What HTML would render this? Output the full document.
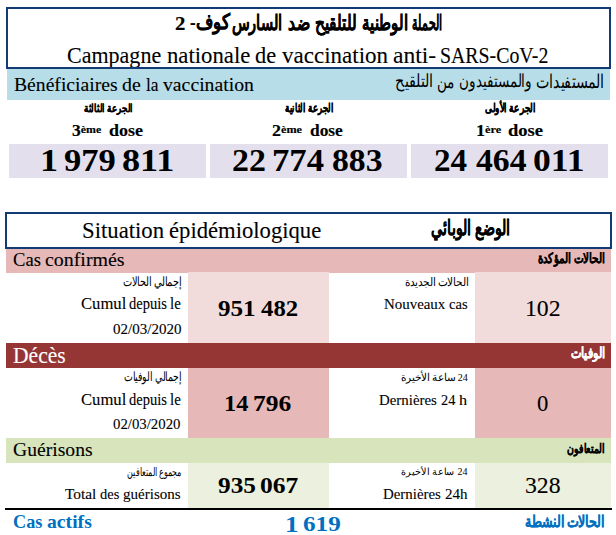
<!DOCTYPE html>
<html><head><meta charset="utf-8"><title>Campagne nationale de vaccination</title><style>
html,body{margin:0;padding:0;background:#fff;}
body{width:616px;height:535px;position:relative;overflow:hidden;font-family:"Liberation Serif",serif;}
.b{position:absolute;}
.f{position:absolute;box-sizing:border-box;border:2px solid #123a74;z-index:5;}
.t{position:absolute;white-space:nowrap;line-height:1;transform-origin:0 0;}
.t sup{font-size:0.68em;vertical-align:0;position:relative;top:-0.28em;}
.r{direction:rtl;unicode-bidi:isolate;}
</style></head><body>
<div class="b" style="left:7px;top:69px;width:603px;height:31px;background:#B7DEE8"></div>
<div class="b" style="left:9px;top:144px;width:197px;height:34px;background:#E4DFEC"></div>
<div class="b" style="left:210px;top:144px;width:197px;height:34px;background:#E4DFEC"></div>
<div class="b" style="left:411px;top:144px;width:197px;height:34px;background:#E4DFEC"></div>
<div class="b" style="left:6px;top:249px;width:605px;height:24px;background:#E6B8B7"></div>
<div class="b" style="left:188px;top:272px;width:141px;height:71px;background:#F2DCDB"></div>
<div class="b" style="left:475px;top:272px;width:136px;height:71px;background:#F2DCDB"></div>
<div class="b" style="left:6px;top:343px;width:605px;height:25px;background:#963634"></div>
<div class="b" style="left:188px;top:368px;width:141px;height:70px;background:#E6B8B7"></div>
<div class="b" style="left:475px;top:368px;width:136px;height:70px;background:#E6B8B7"></div>
<div class="b" style="left:6px;top:438px;width:605px;height:25px;background:#D8E4BC"></div>
<div class="b" style="left:188px;top:463px;width:141px;height:45px;background:#EBF1DE"></div>
<div class="b" style="left:475px;top:463px;width:136px;height:45px;background:#EBF1DE"></div>
<div class="b" style="left:5px;top:508px;width:607px;height:2px;background:#000000"></div>
<div class="f" style="left:6px;top:7px;width:605px;height:62px;"></div>
<div class="f" style="left:5px;top:212px;width:607px;height:37px;"></div>
<div id="title_ar_0" class="t r" style="left:412.35px;top:11.64px;font-size:20px;color:#000;transform:scale(0.5519,1.0588);font-weight:bold;-webkit-text-stroke-width:0.20px;">الحملة</div>
<div id="title_ar_1" class="t r" style="left:361.86px;top:11.73px;font-size:20px;color:#000;transform:scale(0.7564,1.0633);font-weight:bold;-webkit-text-stroke-width:0.20px;">الوطنية</div>
<div id="title_ar_2" class="t r" style="left:315.33px;top:11.88px;font-size:20px;color:#000;transform:scale(0.7547,1.0324);font-weight:bold;-webkit-text-stroke-width:0.20px;">للتلقيح</div>
<div id="title_ar_3" class="t r" style="left:287.53px;top:11.76px;font-size:20px;color:#000;transform:scale(0.7907,1.0620);font-weight:bold;-webkit-text-stroke-width:0.20px;">ضد</div>
<div id="title_ar_4" class="t r" style="left:232.22px;top:12.15px;font-size:20px;color:#000;transform:scale(0.7184,1.0372);font-weight:bold;-webkit-text-stroke-width:0.20px;">السارس</div>
<div id="title_ar_5" class="t r" style="left:190.48px;top:11.41px;font-size:20px;color:#000;transform:scale(0.8414,1.0574);font-weight:bold;-webkit-text-stroke-width:0.20px;">كوف-</div>
<div id="title_ar_6" class="t r" style="left:174.81px;top:14.81px;font-size:20px;color:#000;transform:scale(1.0391,0.8920);font-weight:bold;-webkit-text-stroke-width:0.20px;">2</div>
<div id="title_fr_0" class="t" style="left:66.74px;top:44.38px;font-size:22px;color:#000;transform:scale(1.0009,1.0416);-webkit-text-stroke-width:0.10px;">Campagne</div>
<div id="title_fr_1" class="t" style="left:167.47px;top:44.57px;font-size:22px;color:#000;transform:scale(1.0340,1.0125);-webkit-text-stroke-width:0.10px;">nationale</div>
<div id="title_fr_2" class="t" style="left:255.02px;top:44.27px;font-size:22px;color:#000;transform:scale(1.0172,1.0401);-webkit-text-stroke-width:0.10px;">de</div>
<div id="title_fr_3" class="t" style="left:282.04px;top:44.03px;font-size:22px;color:#000;transform:scale(1.0463,1.0282);-webkit-text-stroke-width:0.10px;">vaccination</div>
<div id="title_fr_4" class="t" style="left:392.98px;top:43.76px;font-size:22px;color:#000;transform:scale(1.0711,1.0380);-webkit-text-stroke-width:0.10px;">anti-</div>
<div id="title_fr_5" class="t" style="left:440.24px;top:43.97px;font-size:22px;color:#000;transform:scale(0.9013,1.0415);-webkit-text-stroke-width:0.10px;">SARS-CoV-2</div>
<div id="benef_fr_0" class="t" style="left:13.93px;top:74.93px;font-size:18px;color:#000;transform:scale(1.0916,1.0423);-webkit-text-stroke-width:0.10px;">Bénéficiaires</div>
<div id="benef_fr_1" class="t" style="left:121.80px;top:75.52px;font-size:18px;color:#000;transform:scale(1.1033,1.0112);-webkit-text-stroke-width:0.10px;">de</div>
<div id="benef_fr_2" class="t" style="left:145.70px;top:74.50px;font-size:18px;color:#000;transform:scale(0.9686,1.0895);-webkit-text-stroke-width:0.10px;">la</div>
<div id="benef_fr_3" class="t" style="left:162.60px;top:74.72px;font-size:18px;color:#000;transform:scale(1.0960,1.0411);-webkit-text-stroke-width:0.10px;">vaccination</div>
<div id="benef_ar_0" class="t r" style="left:535.74px;top:72.13px;font-size:18px;color:#000;transform:scale(0.7912,1.0554);">المستفيدات</div>
<div id="benef_ar_1" class="t r" style="left:459.40px;top:72.05px;font-size:18px;color:#000;transform:scale(0.7704,1.0258);">والمستفيدون</div>
<div id="benef_ar_2" class="t r" style="left:437.03px;top:72.67px;font-size:18px;color:#000;transform:scale(0.7393,1.0320);">من</div>
<div id="benef_ar_3" class="t r" style="left:395.11px;top:72.46px;font-size:18px;color:#000;transform:scale(0.8132,1.0194);">التلقيح</div>
<div id="d3_ar" class="t r" style="left:83.53px;top:102.16px;font-size:13px;color:#000;transform:scale(0.6793,0.8640);font-weight:bold;-webkit-text-stroke-width:0.30px;">الجرعة الثالثة</div>
<div id="d2_ar" class="t r" style="left:285.07px;top:102.09px;font-size:13px;color:#000;transform:scale(0.6731,0.9449);font-weight:bold;-webkit-text-stroke-width:0.30px;">الجرعة الثانية</div>
<div id="d1_ar" class="t r" style="left:485.01px;top:102.02px;font-size:13px;color:#000;transform:scale(0.6947,0.9381);font-weight:bold;-webkit-text-stroke-width:0.30px;">الجرعة الأولى</div>
<div id="d3_fr_0" class="t" style="left:71.58px;top:122.88px;font-size:16px;color:#000;transform:scale(1.0959,0.9977);font-weight:bold;-webkit-text-stroke-width:0.15px;">3<sup>ème</sup></div>
<div id="d3_fr_1" class="t" style="left:108.93px;top:121.83px;font-size:16px;color:#000;transform:scale(1.1229,1.0448);font-weight:bold;-webkit-text-stroke-width:0.15px;">dose</div>
<div id="d2_fr_0" class="t" style="left:271.82px;top:123.30px;font-size:16px;color:#000;transform:scale(1.1214,1.0036);font-weight:bold;-webkit-text-stroke-width:0.15px;">2<sup>ème</sup></div>
<div id="d2_fr_1" class="t" style="left:310.29px;top:123.23px;font-size:16px;color:#000;transform:scale(1.0864,0.9853);font-weight:bold;-webkit-text-stroke-width:0.15px;">dose</div>
<div id="d1_fr_0" class="t" style="left:475.83px;top:122.73px;font-size:16px;color:#000;transform:scale(1.1340,1.0072);font-weight:bold;-webkit-text-stroke-width:0.15px;">1<sup>ère</sup></div>
<div id="d1_fr_1" class="t" style="left:508.26px;top:122.84px;font-size:16px;color:#000;transform:scale(1.1582,0.9818);font-weight:bold;-webkit-text-stroke-width:0.15px;">dose</div>
<div id="n0" class="t" style="left:39.97px;top:144.67px;font-size:31px;color:#000;transform:scale(1.1655,0.9954);font-weight:bold;">1</div>
<div id="n1" class="t" style="left:63.68px;top:144.87px;font-size:31px;color:#000;transform:scale(1.1140,1.0084);font-weight:bold;">979</div>
<div id="n2" class="t" style="left:122.02px;top:144.87px;font-size:31px;color:#000;transform:scale(1.1680,1.0084);font-weight:bold;">811</div>
<div id="n3" class="t" style="left:232.49px;top:143.90px;font-size:31px;color:#000;transform:scale(1.0936,1.0245);font-weight:bold;">22</div>
<div id="n4" class="t" style="left:272.13px;top:144.45px;font-size:31px;color:#000;transform:scale(1.1181,1.0307);font-weight:bold;">774</div>
<div id="n5" class="t" style="left:331.62px;top:144.45px;font-size:31px;color:#000;transform:scale(1.0878,1.0307);font-weight:bold;">883</div>
<div id="n6" class="t" style="left:433.83px;top:144.67px;font-size:31px;color:#000;transform:scale(1.0701,0.9954);font-weight:bold;">24</div>
<div id="n7" class="t" style="left:475.90px;top:144.16px;font-size:31px;color:#000;transform:scale(1.0876,1.0384);font-weight:bold;">464</div>
<div id="n8" class="t" style="left:533.15px;top:144.54px;font-size:31px;color:#000;transform:scale(1.1485,0.9865);font-weight:bold;">011</div>
<div id="sit_fr_0" class="t" style="left:81.60px;top:219.01px;font-size:22px;color:#000;transform:scale(1.0334,1.0373);-webkit-text-stroke-width:0.10px;">Situation</div>
<div id="sit_fr_1" class="t" style="left:169.32px;top:219.56px;font-size:22px;color:#000;transform:scale(1.0295,1.0218);-webkit-text-stroke-width:0.10px;">épidémiologique</div>
<div id="sit_ar" class="t r" style="left:431.05px;top:217.47px;font-size:20px;color:#000;transform:scale(0.7115,1.0539);font-weight:bold;-webkit-text-stroke-width:0.20px;">الوضع الوبائي</div>
<div id="cas_fr_0" class="t" style="left:13.39px;top:251.02px;font-size:18px;color:#000;transform:scale(1.0321,1.0116);-webkit-text-stroke-width:0.10px;">Cas</div>
<div id="cas_fr_1" class="t" style="left:45.07px;top:249.97px;font-size:18px;color:#000;transform:scale(1.1056,1.0358);-webkit-text-stroke-width:0.10px;">confirmés</div>
<div id="cas_ar" class="t r" style="left:537.80px;top:252.05px;font-size:14px;color:#000;transform:scale(0.7476,1.0080);font-weight:bold;-webkit-text-stroke-width:0.20px;">الحالات المؤكدة</div>
<div id="r1_ar1" class="t r" style="left:122.96px;top:276.47px;font-size:14px;color:#000;transform:scale(0.6752,0.8949);">إجمالي الحالات</div>
<div id="r1_cumul_0" class="t" style="left:81.34px;top:296.28px;font-size:15px;color:#000;transform:scale(1.1090,1.0604);-webkit-text-stroke-width:0.10px;">Cumul</div>
<div id="r1_cumul_1" class="t" style="left:129.23px;top:296.34px;font-size:15px;color:#000;transform:scale(0.9675,1.0814);-webkit-text-stroke-width:0.10px;">depuis</div>
<div id="r1_cumul_2" class="t" style="left:169.97px;top:296.22px;font-size:15px;color:#000;transform:scale(0.9968,1.1236);-webkit-text-stroke-width:0.10px;">le</div>
<div id="r1_date" class="t" style="left:112.70px;top:321.88px;font-size:15px;color:#000;transform:scale(1.0018,1.0054);-webkit-text-stroke-width:0.10px;">02/03/2020</div>
<div id="r1_numa" class="t" style="left:217.79px;top:297.40px;font-size:22px;color:#000;transform:scale(1.1396,1.0362);font-weight:bold;">951</div>
<div id="r1_numb" class="t" style="left:261.21px;top:297.20px;font-size:22px;color:#000;transform:scale(1.1259,1.0646);font-weight:bold;">482</div>
<div id="r1_ar2" class="t r" style="left:405.47px;top:276.83px;font-size:14px;color:#000;transform:scale(0.7259,0.8297);">الحالات الجديدة</div>
<div id="r1_nouv_0" class="t" style="left:384.00px;top:298.24px;font-size:15px;color:#000;transform:scale(0.9939,0.9529);-webkit-text-stroke-width:0.10px;">Nouveaux</div>
<div id="r1_nouv_1" class="t" style="left:448.82px;top:297.23px;font-size:15px;color:#000;transform:scale(0.9713,0.9991);-webkit-text-stroke-width:0.10px;">cas</div>
<div id="r1_new" class="t" style="left:524.76px;top:297.61px;font-size:22px;color:#000;transform:scale(1.0791,1.0276);-webkit-text-stroke-width:0.10px;">102</div>
<div id="deces" class="t" style="left:13.36px;top:344.98px;font-size:21px;color:#fff;transform:scale(1.0264,1.0493);-webkit-text-stroke-width:0.10px;">Décès</div>
<div id="deces_ar" class="t r" style="left:571.30px;top:345.91px;font-size:14px;color:#fff;transform:scale(0.7912,1.0554);font-weight:bold;-webkit-text-stroke-width:0.20px;">الوفيات</div>
<div id="r2_ar1" class="t r" style="left:123.73px;top:370.80px;font-size:14px;color:#000;transform:scale(0.6586,0.9184);">إجمالي الوفيات</div>
<div id="r2_cumul_0" class="t" style="left:81.34px;top:392.28px;font-size:15px;color:#000;transform:scale(1.1090,1.0604);-webkit-text-stroke-width:0.10px;">Cumul</div>
<div id="r2_cumul_1" class="t" style="left:129.23px;top:392.34px;font-size:15px;color:#000;transform:scale(0.9675,1.0814);-webkit-text-stroke-width:0.10px;">depuis</div>
<div id="r2_cumul_2" class="t" style="left:169.97px;top:392.22px;font-size:15px;color:#000;transform:scale(0.9968,1.1236);-webkit-text-stroke-width:0.10px;">le</div>
<div id="r2_date" class="t" style="left:113.27px;top:417.95px;font-size:15px;color:#000;transform:scale(0.9876,0.9456);-webkit-text-stroke-width:0.10px;">02/03/2020</div>
<div id="r2_numa" class="t" style="left:224.39px;top:391.69px;font-size:22px;color:#000;transform:scale(1.1093,1.0765);font-weight:bold;">14</div>
<div id="r2_numb" class="t" style="left:253.01px;top:392.63px;font-size:22px;color:#000;transform:scale(1.1599,1.0242);font-weight:bold;">796</div>
<div id="r2_ar2" class="t r" style="left:400.73px;top:372.74px;font-size:14px;color:#000;transform:scale(0.7173,0.7533);">24 ساعة الأخيرة</div>
<div id="r2_dern_0" class="t" style="left:379.10px;top:392.75px;font-size:15px;color:#000;transform:scale(0.9930,0.9828);-webkit-text-stroke-width:0.10px;">Dernières</div>
<div id="r2_dern_1" class="t" style="left:440.75px;top:392.66px;font-size:15px;color:#000;transform:scale(0.9537,0.9816);-webkit-text-stroke-width:0.10px;">24</div>
<div id="r2_dern_2" class="t" style="left:459.00px;top:393.84px;font-size:15px;color:#000;transform:scale(1.0807,0.9201);-webkit-text-stroke-width:0.10px;">h</div>
<div id="r2_new" class="t" style="left:537.39px;top:392.05px;font-size:22px;color:#000;transform:scale(1.0276,1.0395);-webkit-text-stroke-width:0.10px;">0</div>
<div id="guer" class="t" style="left:13.12px;top:440.42px;font-size:18px;color:#000;transform:scale(1.0902,1.0623);-webkit-text-stroke-width:0.10px;">Guérisons</div>
<div id="guer_ar" class="t r" style="left:566.81px;top:442.29px;font-size:14px;color:#000;transform:scale(0.6884,0.9573);font-weight:bold;-webkit-text-stroke-width:0.20px;">المتعافون</div>
<div id="r3_ar1" class="t r" style="left:127.21px;top:466.77px;font-size:14px;color:#000;transform:scale(0.5687,0.8598);">مجموع المتعافين</div>
<div id="r3_total_0" class="t" style="left:65.22px;top:486.96px;font-size:15px;color:#000;transform:scale(1.0221,0.9882);-webkit-text-stroke-width:0.10px;">Total</div>
<div id="r3_total_1" class="t" style="left:100.11px;top:487.25px;font-size:15px;color:#000;transform:scale(0.9628,0.9914);-webkit-text-stroke-width:0.10px;">des</div>
<div id="r3_total_2" class="t" style="left:122.63px;top:487.04px;font-size:15px;color:#000;transform:scale(1.0022,0.9982);-webkit-text-stroke-width:0.10px;">guérisons</div>
<div id="r3_numa" class="t" style="left:218.25px;top:473.86px;font-size:22px;color:#000;transform:scale(1.1498,1.0352);font-weight:bold;">935</div>
<div id="r3_numb" class="t" style="left:259.66px;top:473.86px;font-size:22px;color:#000;transform:scale(1.1599,1.0628);font-weight:bold;">067</div>
<div id="r3_ar2" class="t r" style="left:400.77px;top:467.27px;font-size:14px;color:#000;transform:scale(0.7143,0.7428);">24 ساعة الأخيرة</div>
<div id="r3_dern_0" class="t" style="left:383.17px;top:488.38px;font-size:15px;color:#000;transform:scale(0.9924,0.9208);-webkit-text-stroke-width:0.10px;">Dernières</div>
<div id="r3_dern_1" class="t" style="left:444.83px;top:487.14px;font-size:15px;color:#000;transform:scale(1.0019,1.0223);-webkit-text-stroke-width:0.10px;">24h</div>
<div id="r3_new" class="t" style="left:525.49px;top:473.94px;font-size:22px;color:#000;transform:scale(1.0788,1.0608);-webkit-text-stroke-width:0.10px;">328</div>
<div id="act_fr_0" class="t" style="left:12.79px;top:511.65px;font-size:18px;color:#0070C0;transform:scale(1.0131,1.0858);font-weight:bold;">Cas</div>
<div id="act_fr_1" class="t" style="left:47.14px;top:512.09px;font-size:18px;color:#0070C0;transform:scale(1.0933,1.0882);font-weight:bold;">actifs</div>
<div id="act_numa" class="t" style="left:285.44px;top:513.75px;font-size:21px;color:#0070C0;transform:scale(1.2869,1.0777);font-weight:bold;">1</div>
<div id="act_numb" class="t" style="left:302.83px;top:514.32px;font-size:21px;color:#0070C0;transform:scale(1.1979,1.0202);font-weight:bold;">619</div>
<div id="act_ar" class="t r" style="left:524.83px;top:513.66px;font-size:16px;color:#0070C0;transform:scale(0.7733,0.9823);font-weight:bold;-webkit-text-stroke-width:0.20px;">الحالات النشطة</div>
</body></html>
